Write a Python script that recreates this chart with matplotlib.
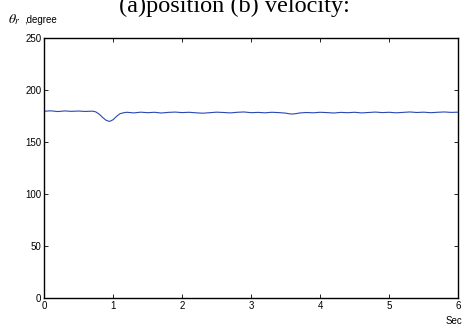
import matplotlib.pyplot as plt
import numpy as np

plt.rcParams['mathtext.fontset'] = 'stix'

# time (s) and position (degree)
t_vals = [0.0, 0.1, 0.2, 0.3, 0.4, 0.5, 0.6, 0.7, 0.75, 0.8, 0.85, 0.9, 0.95,
          1.0, 1.05, 1.1, 1.15, 1.2, 1.3, 1.4, 1.5, 1.6, 1.7, 1.8, 1.9, 2.0,
          2.1, 2.2, 2.3, 2.4, 2.5, 2.6, 2.7, 2.8, 2.9, 3.0, 3.1, 3.2, 3.3,
          3.4, 3.5, 3.55, 3.6, 3.65, 3.7, 3.8, 3.9, 4.0, 4.1, 4.2, 4.3, 4.4,
          4.5, 4.6, 4.7, 4.8, 4.9, 5.0, 5.1, 5.2, 5.3, 5.4, 5.5, 5.6, 5.7,
          5.8, 5.9, 6.0]
theta_vals = [179.6, 180.0, 179.3, 179.9, 179.5, 179.8, 179.4, 179.7, 179.0,
              176.8, 173.6, 170.9, 169.8, 171.4, 174.6, 177.2, 178.1, 178.6,
              178.0, 178.7, 178.2, 178.6, 177.9, 178.5, 178.8, 178.3, 178.6,
              178.1, 177.7, 178.2, 178.7, 178.4, 178.0, 178.6, 178.9, 178.2,
              178.5, 178.1, 178.6, 178.3, 177.8, 177.2, 176.9, 177.3, 177.9,
              178.4, 178.1, 178.6, 178.3, 177.9, 178.5, 178.2, 178.6, 178.0,
              178.4, 178.8, 178.3, 178.6, 178.1, 178.5, 178.9, 178.4, 178.7,
              178.2, 178.6, 178.9, 178.5, 178.7]
x_ticks = [0, 1, 2, 3, 4, 5, 6]
y_ticks = [0, 50, 100, 150, 200, 250]

fig = plt.figure(figsize=(4.68, 3.25), dpi=100)
ax = fig.add_axes([0.094, 0.083, 0.885, 0.8])
ax.plot(t_vals, theta_vals, color='#2a48b4', linewidth=0.8)
ax.set_xlim(0, 6)
ax.set_ylim(0, 250)
ax.set_xticks(x_ticks)
ax.set_yticks(y_ticks)
ax.tick_params(direction='in', top=True, right=True, length=3, width=0.6,
               labelsize=7, pad=2)
for lab in ax.get_xticklabels() + ax.get_yticklabels():
    lab.set_family('Liberation Sans')
for s in ax.spines.values():
    s.set_linewidth(1.0)

# title is cut off at the top edge in the reference
fig.text(0.5, 0.962, '(a)position (b) velocity:', ha='center', va='baseline',
         family='Liberation Serif', fontsize=17.5)
fig.text(0.017, 0.93, r'$\theta_r$', ha='left', va='baseline', fontsize=10)
fig.text(0.051, 0.93, ',degree', ha='left', va='baseline',
         family='Liberation Sans', fontsize=7)
fig.text(0.951, 0.003, 'Sec', ha='left', va='baseline',
         family='Liberation Sans', fontsize=7)

fig.savefig('out.png', dpi=100)
